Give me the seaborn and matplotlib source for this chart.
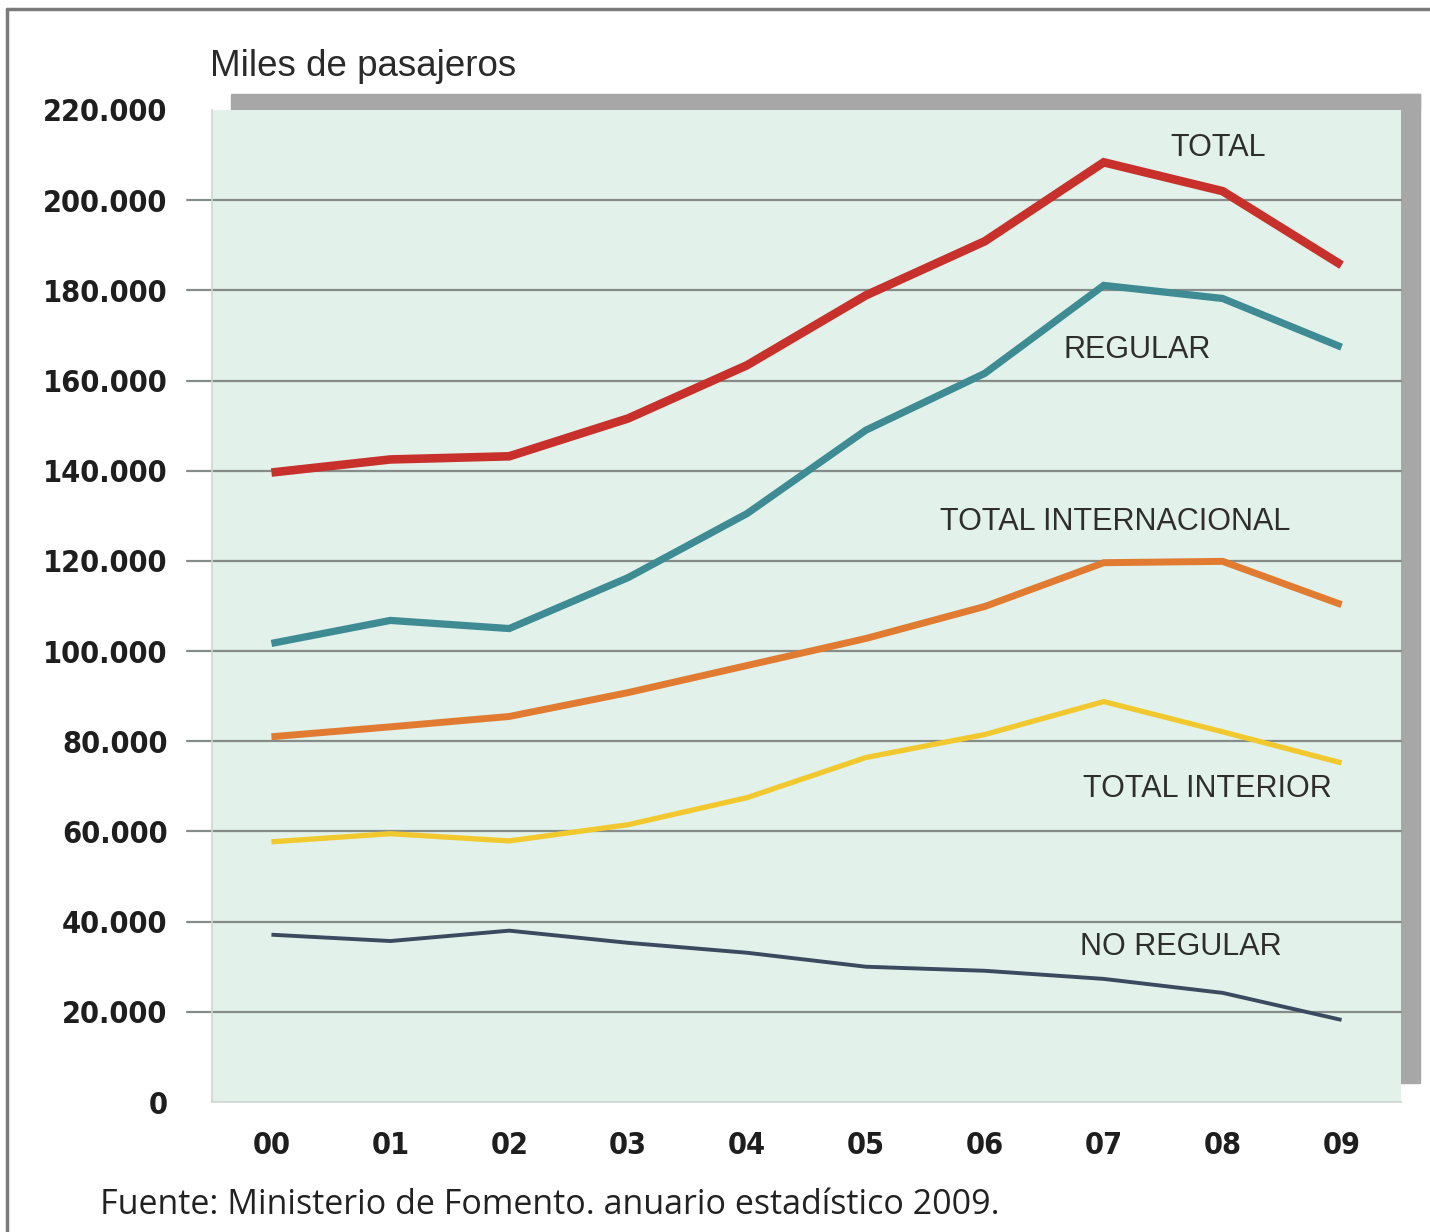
import matplotlib
matplotlib.use("Agg")
import matplotlib.pyplot as plt
import seaborn as sns
import pandas as pd
from matplotlib.patches import Rectangle
from matplotlib.lines import Line2D
from matplotlib.ticker import FuncFormatter

# datos (miles de pasajeros)
years = ["00", "01", "02", "03", "04", "05", "06", "07", "08", "09"]
total = [139.6, 142.5, 143.2, 151.6, 163.4, 178.9, 190.9, 208.4, 202.0, 185.6]
regular = [101.7, 106.8, 105.0, 116.3, 130.5, 149.0, 161.6, 181.1, 178.2, 167.4]
total_internacional = [81.0, 83.2, 85.5, 90.8, 96.8, 102.8, 109.9, 119.6, 119.9, 110.3]
total_interior = [57.7, 59.5, 57.9, 61.5, 67.5, 76.4, 81.5, 88.8, 82.1, 75.2]
no_regular = [37.1, 35.7, 38.0, 35.3, 33.1, 30.0, 29.1, 27.3, 24.2, 18.2]

series = {
    "TOTAL": total,
    "REGULAR": regular,
    "TOTAL INTERNACIONAL": total_internacional,
    "TOTAL INTERIOR": total_interior,
    "NO REGULAR": no_regular,
}
colores = {
    "TOTAL": "#c8302b",
    "REGULAR": "#3e8b94",
    "TOTAL INTERNACIONAL": "#e07b31",
    "TOTAL INTERIOR": "#f1c92f",
    "NO REGULAR": "#3b4a5e",
}
grosor = {
    "TOTAL": 6.2,
    "REGULAR": 5.2,
    "TOTAL INTERNACIONAL": 5.0,
    "TOTAL INTERIOR": 3.8,
    "NO REGULAR": 2.8,
}
# posicion de las etiquetas (x = indice de año, y = miles)
etiquetas = {
    "TOTAL": (7.96, 211.5),
    "REGULAR": (7.28, 166.7),
    "TOTAL INTERNACIONAL": (7.10, 128.7),
    "TOTAL INTERIOR": (7.87, 69.5),
    "NO REGULAR": (7.65, 34.4),
}

df = pd.DataFrame([
    {"idx": i, "serie": nombre, "valor": v * 1000}
    for nombre, vals in series.items()
    for i, v in enumerate(vals)
])

sns.set_style("white")
plt.rcParams["font.family"] = ["Liberation Sans", "DejaVu Sans"]

W, H = 1430, 1232
fig = plt.figure(figsize=(W / 100, H / 100), dpi=100)
ax = fig.add_axes([212 / W, 1 - 1102 / H, (1401 - 212) / W, (1102 - 110) / H])
ax.set_facecolor("#e2f1ea")
ax.set_zorder(1)

# sombra gris arriba y a la derecha
sombra = "#a7a7a7"
fig.add_artist(Rectangle((231 / W, 1 - 110 / H), (1420 - 231) / W, 16 / H,
                         transform=fig.transFigure, color=sombra, zorder=0))
fig.add_artist(Rectangle((1400 / W, 1 - 1083 / H), 20 / W, (1083 - 94) / H,
                         transform=fig.transFigure, color=sombra, zorder=0))

# marco exterior (solo arriba e izquierda)
fig.add_artist(Line2D([7 / W, 1], [1 - 9 / H, 1 - 9 / H], transform=fig.transFigure,
                      color="#7b7b7b", lw=2.5))
fig.add_artist(Line2D([7 / W, 7 / W], [0, 1 - 9 / H], transform=fig.transFigure,
                      color="#7b7b7b", lw=2.5))

ax.set_xlim(-0.5, 9.5)
ax.set_ylim(0, 220000)

# lineas de cuadricula que salen un poco por la izquierda
for yv in range(20000, 200001, 20000):
    ax.axhline(yv, xmin=-25 / 1189, xmax=1, color="#868c8a", lw=1.6,
               clip_on=False, zorder=1)

sns.lineplot(data=df, x="idx", y="valor", hue="serie", palette=colores,
             legend=False, ax=ax, zorder=3, solid_capstyle="butt")
for line, nombre in zip(ax.get_lines()[-len(series):], series):
    line.set_linewidth(grosor[nombre])
    line.set_solid_joinstyle("miter")

for nombre, (xp, yp) in etiquetas.items():
    ax.text(xp, yp * 1000, nombre, ha="center", va="center", fontsize=22,
            color="#2e2e2e", zorder=4)

ax.set_xticks(range(len(years)))
ax.set_xticklabels(years)
ax.set_yticks(range(0, 220001, 20000))
ax.yaxis.set_major_formatter(FuncFormatter(lambda v, p: f"{int(v):,}".replace(",", ".")))
ax.tick_params(axis="both", length=0, labelsize=22, colors="#1e1e1e")
ax.tick_params(axis="y", pad=32)
ax.tick_params(axis="x", pad=21)
for lab in ax.get_xticklabels() + ax.get_yticklabels():
    lab.set_family(["DejaVu Sans"])
    lab.set_fontstretch("condensed")
    lab.set_fontweight("bold")

for s in ["top", "right"]:
    ax.spines[s].set_visible(False)
for s in ["left", "bottom"]:
    ax.spines[s].set_color("#cdd6d2")
    ax.spines[s].set_linewidth(1.2)

ax.set_xlabel("")
ax.set_ylabel("")

fig.text(210 / W, 1 - 66 / H, "Miles de pasajeros", ha="left", va="center",
         fontsize=26.5, color="#2a2a2a")
fig.text(100 / W, 1 - 1205 / H, "Fuente: Ministerio de Fomento. anuario estadístico 2009.",
         ha="left", va="center", fontsize=24.5, color="#222222",
         family=["Open Sans", "DejaVu Sans"])

fig.savefig("out.png", dpi=100)
